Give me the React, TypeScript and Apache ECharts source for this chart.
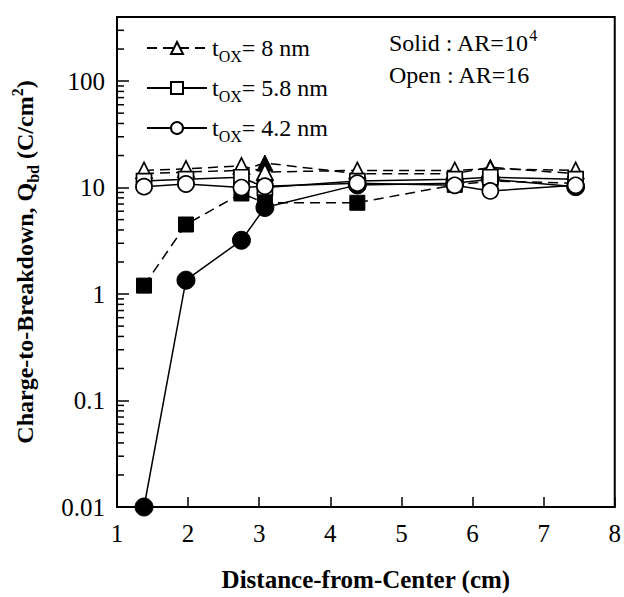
import React, { useEffect, useRef } from "react";
import * as echarts from "echarts";

const FONT = "'Liberation Serif', 'Times New Roman', serif";

// Distance-from-center positions (cm)
const xPositions = [1.38, 1.97, 2.75, 3.08, 4.38, 5.75, 6.25, 7.45];

// Qbd values (C/cm^2)
const open8 = [14.5, 15, 16, 14, 14.5, 14.5, 15, 14.5];
const solid8 = [13.5, 14, 14.5, 17, 13.5, 13.5, 15.5, 13.5];
const open58 = [11.5, 12, 12.5, 10, 11.5, 12, 12.5, 12];
const solid58 = [1.2, 4.5, 8.8, 7.2, 7.2, 10.6, 11.5, 11];
const open42 = [10.2, 10.8, 10, 10.3, 11, 10.5, 9.3, 10.5];
const solid42 = [0.01, 1.35, 3.2, 6.5, 10.6, 11, 12, 10.2];

const xTicks = [1, 2, 3, 4, 5, 6, 7, 8];
const yTickLabels = ["0.01", "0.1", "1", "10", "100"];
const legendNames = ["tox8", "tox58", "tox42"];
const legendLabels: Record<string, string> = {
  tox8: "{t|t}{s|OX}{t|= 8 nm}",
  tox58: "{t|t}{s|OX}{t|= 5.8 nm}",
  tox42: "{t|t}{s|OX}{t|= 4.2 nm}",
};

const rich = {
  t: { fontSize: 24, fontFamily: FONT, color: "#000", lineHeight: 32 },
  s: { fontSize: 16, fontFamily: FONT, color: "#000", lineHeight: 14, verticalAlign: "bottom" },
  p: { fontSize: 16, fontFamily: FONT, color: "#000", lineHeight: 14, verticalAlign: "top" },
};
const richBold = {
  b: { fontSize: 24, fontFamily: FONT, fontWeight: "bold", color: "#000", lineHeight: 32 },
  s: { fontSize: 16, fontFamily: FONT, fontWeight: "bold", color: "#000", lineHeight: 14, verticalAlign: "bottom" },
  p: { fontSize: 16, fontFamily: FONT, fontWeight: "bold", color: "#000", lineHeight: 14, verticalAlign: "top" },
};

const minorTicks: number[] = [];
for (let k = -2; k <= 2; k++) {
  for (let m = 2; m <= 9; m++) {
    const v = m * Math.pow(10, k);
    if (v < 400) minorTicks.push(v);
  }
}

const pair = (ys: number[]) => xPositions.map((x, i) => [x, ys[i]]);

export default function App() {
  const ref = useRef<HTMLDivElement>(null);
  useEffect(() => {
    if (!ref.current) return;
    const chart = echarts.init(ref.current, null, { renderer: "svg" });
    const lineW = 1.5;
    const openItem = { color: "#fff", borderColor: "#000", borderWidth: 1.7 };
    const solidItem = { color: "#000", borderColor: "#000", borderWidth: 1 };
    const mk = (name: string, ys: number[], symbol: string, size: number, item: any, dashed: boolean, z: number) => ({
      name,
      type: "line",
      data: pair(ys),
      symbol,
      symbolSize: size,
      showAllSymbol: true,
      itemStyle: item,
      lineStyle: { color: "#000", width: lineW, type: dashed ? [10, 6] : "solid" },
      z,
      clip: false,
    });
    chart.setOption({
      animation: false,
      backgroundColor: "#fff",
      grid: { left: 117, right: 4, top: 17, bottom: 89, show: true, borderColor: "#000", borderWidth: 2, backgroundColor: "transparent" },
      xAxis: {
        type: "value",
        min: 1,
        max: 8,
        interval: 1,
        name: "Distance-from-Center (cm)",
        nameLocation: "middle",
        nameGap: 60,
        nameTextStyle: { fontFamily: FONT, fontWeight: "bold", fontSize: 25, color: "#000" },
        axisLine: { lineStyle: { color: "#000", width: 2 } },
        axisTick: { inside: true, length: 10, lineStyle: { color: "#000", width: 1.5 } },
        axisLabel: {
          margin: 14,
          fontFamily: FONT,
          fontSize: 25,
          color: "#000",
          showMinLabel: true,
          showMaxLabel: true,
          formatter: (v: number) => (xTicks.includes(v) ? String(v) : ""),
        },
        splitLine: { show: false },
      },
      yAxis: {
        type: "log",
        logBase: 10,
        min: 0.01,
        max: 400,
        name: "{b|Charge-to-Breakdown, Q}{s|bd}{b| (C/cm}{p|2}{b|)}",
        nameLocation: "middle",
        nameGap: 76,
        nameTextStyle: { rich: richBold },
        axisLine: { lineStyle: { color: "#000", width: 2 } },
        axisTick: { inside: true, length: 12, lineStyle: { color: "#000", width: 1.5 } },
        axisLabel: {
          margin: 12,
          fontFamily: FONT,
          fontSize: 25,
          color: "#000",
          showMaxLabel: false,
          formatter: (v: number) => {
            const e = Math.log10(v);
            const r = Math.round(e);
            if (Math.abs(e - r) > 1e-6) return "";
            return yTickLabels[r + 2] ?? "";
          },
        },
        splitLine: { show: false },
      },
      legend: {
        data: legendNames,
        orient: "vertical",
        left: 141,
        top: 31,
        itemWidth: 60,
        itemHeight: 15,
        itemGap: 12,
        formatter: (name: string) => legendLabels[name],
        textStyle: { rich },
        selectedMode: false,
      },
      graphic: [
        {
          type: "text",
          left: 389,
          top: 27,
          style: {
            text: "{t|Solid : AR=10}{p|4}\n{t|Open : AR=16}",
            rich,
          },
        },
      ],
      series: [
        {
          type: "custom",
          data: minorTicks.map((v) => [1, v]),
          renderItem: (params: any, api: any) => {
            const p = api.coord([api.value(0), api.value(1)]);
            return {
              type: "line",
              shape: { x1: p[0], y1: p[1], x2: p[0] + 7, y2: p[1] },
              style: { stroke: "#000", lineWidth: 1.5 },
            };
          },
          clip: false,
          z: 5,
          silent: true,
        },
        mk("s8", solid8, "triangle", 16, solidItem, true, 2),
        mk("s58", solid58, "rect", 15, solidItem, true, 2),
        mk("s42", solid42, "circle", 18, solidItem, false, 2),
        mk("tox8", open8, "triangle", 16, openItem, true, 3),
        mk("tox58", open58, "rect", 15, openItem, false, 3),
        mk("tox42", open42, "circle", 16, openItem, false, 3),
      ],
    });
    return () => chart.dispose();
  }, []);
  return <div ref={ref} style={{ position: "fixed", left: 0, top: 0, width: 624, height: 597 }} />;
}
